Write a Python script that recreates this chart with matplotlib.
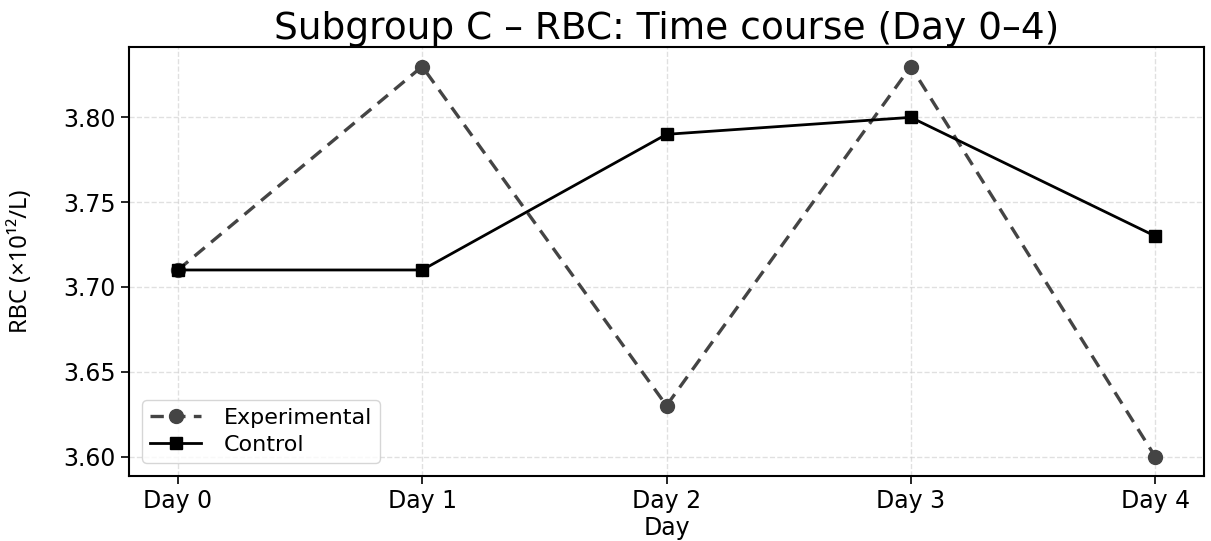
import matplotlib
matplotlib.use("Agg")
import matplotlib.pyplot as plt

days = ["Day 0", "Day 1", "Day 2", "Day 3", "Day 4"]
experimental = [3.71, 3.83, 3.63, 3.83, 3.60]
control = [3.71, 3.71, 3.79, 3.80, 3.73]
yticks = [3.60, 3.65, 3.70, 3.75, 3.80]

plt.rcParams['font.family'] = ['DejaVu Sans']

fig = plt.figure(figsize=(12.11, 5.41), dpi=100)
ax = fig.add_axes([129/1211, 1-476/541, (1204-129)/1211, (476-47)/541])

x = list(range(len(days)))
ax.plot(x, experimental, linestyle='--', marker='o', color='#444444',
        linewidth=2.4, markersize=10, label='Experimental', dashes=(4, 2.5))
ax.plot(x, control, linestyle='-', marker='s', color='black',
        linewidth=2.0, markersize=9, label='Control')

ax.set_xticks(x)
ax.set_xticklabels(days, fontsize=17)
ax.set_yticks(yticks)
ax.set_yticklabels([f"{v:.2f}" for v in yticks], fontsize=17)
ax.tick_params(axis='both', length=6, width=1.2)
ax.grid(True, linestyle='--', color='#cccccc', alpha=0.6, linewidth=1)
for s in ax.spines.values():
    s.set_linewidth(1.5)

ax.set_xlabel("Day", fontsize=17, labelpad=2)
ax.set_ylabel("RBC (×10¹²/L)", fontsize=17, family=['Noto Sans', 'DejaVu Sans'])
ax.yaxis.set_label_coords(-0.089, 0.5)
ax.set_title("Subgroup C – RBC: Time course (Day 0–4)", fontsize=27, pad=5)

ax.legend(loc='lower left', fontsize=16, handlelength=2.3, handletextpad=1.0,
          borderpad=0.35, labelspacing=0.3, borderaxespad=0.6)

fig.savefig("out.png", dpi=100)
